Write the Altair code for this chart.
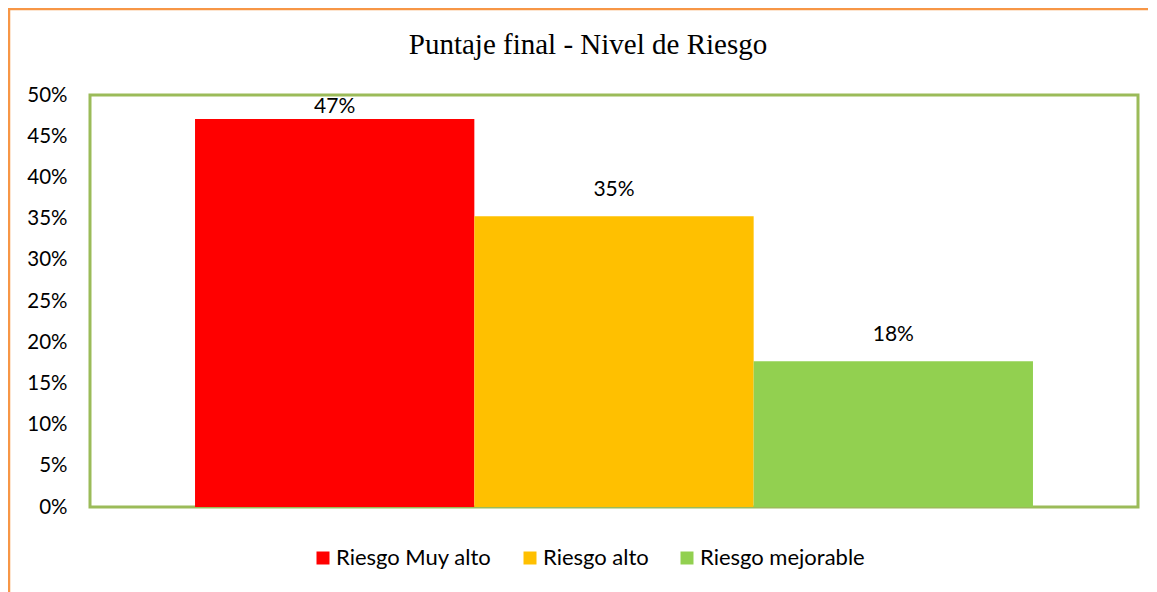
import altair as alt
import pandas as pd

categories = ["Riesgo Muy alto", "Riesgo alto", "Riesgo mejorable"]
values = [0.471, 0.353, 0.177]
colors = ["#FF0000", "#FFC000", "#92D050"]
y_ticks = [0, 0.05, 0.10, 0.15, 0.20, 0.25, 0.30, 0.35, 0.40, 0.45, 0.50]
title_text = "Puntaje final - Nivel de Riesgo"

df = pd.DataFrame({"serie": categories, "valor": values})

FONT = "Lato"
FS = 20.5

x_enc = alt.X("serie:N", axis=None,
              scale=alt.Scale(domain=categories, paddingInner=0, paddingOuter=0.376))

bars = alt.Chart(df).mark_bar().encode(
    x=x_enc,
    y=alt.Y("valor:Q",
            scale=alt.Scale(domain=[0, 0.5], nice=False),
            axis=alt.Axis(values=y_ticks, format=".0%", title=None, grid=False,
                          ticks=False, domain=False, labelFont=FONT, labelFontSize=FS,
                          labelColor="#000000", labelPadding=23)),
    color=alt.Color("serie:N",
                    scale=alt.Scale(domain=categories, range=colors),
                    legend=alt.Legend(title=None, orient="none", direction="horizontal",
                                      legendX=222, legendY=452, symbolType="square",
                                      symbolSize=169, symbolStrokeWidth=0,
                                      labelFont=FONT, labelFontSize=22, labelColor="#000000",
                                      labelOffset=2, columnPadding=27, padding=0,
                                      labelLimit=400)),
)

labels = alt.Chart(df).transform_calculate(
    pos="min(datum.valor + 0.0315, 0.485)"
).mark_text(font=FONT, fontSize=21, baseline="middle", color="#000000").encode(
    x=x_enc,
    y=alt.Y("pos:Q", scale=alt.Scale(domain=[0, 0.5], nice=False)),
    text=alt.Text("valor:Q", format=".0%"),
)

title = alt.Chart(df).transform_aggregate(n="count()").mark_text(
    font="Liberation Serif", fontSize=29, baseline="middle", align="center", color="#000000"
).encode(
    x=alt.value(498), y=alt.value(-50), text=alt.value(title_text)
)

frame_left = alt.Chart(df).transform_aggregate(n="count()").mark_rule(
    color="#F79646", strokeWidth=2.5, clip=False
).encode(x=alt.value(-81), y=alt.value(-87), y2=alt.value(520))

frame_top = alt.Chart(df).transform_aggregate(n="count()").mark_rule(
    color="#F79646", strokeWidth=2.5, clip=False
).encode(x=alt.value(-82), x2=alt.value(1080), y=alt.value(-86))

chart = alt.layer(bars, labels, title, frame_left, frame_top).properties(
    width=1048, height=412,
    autosize=alt.AutoSizeParams(type="none"),
    padding={"left": 82, "top": 87, "right": 10, "bottom": 100},
).configure(
    background="white"
).configure_view(
    stroke="#9BBB59", strokeWidth=3
)

chart.save("out.html", embed_options={"renderer": "svg", "actions": False})
